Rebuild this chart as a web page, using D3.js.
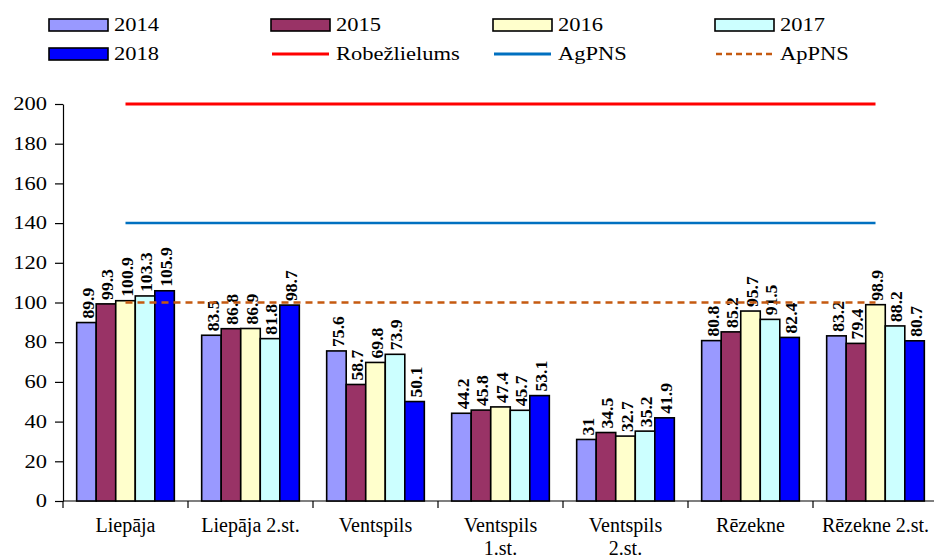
<!DOCTYPE html>
<html>
<head>
<meta charset="utf-8">
<script src="https://cdn.jsdelivr.net/npm/d3@7"></script>
<style>
  body { margin: 0; background: #fff; }
  #chart svg text { font-family: "Liberation Serif", "Times New Roman", Times, serif !important; }
</style>
</head>
<body>
<div id="chart"></div>
<script>
// data
const categories = [["Liepāja"], ["Liepāja 2.st."], ["Ventspils"], ["Ventspils", "1.st."], ["Ventspils", "2.st."], ["Rēzekne"], ["Rēzekne 2.st."]];
const years = ["2014", "2015", "2016", "2017", "2018"];
const v2014 = [89.9, 83.5, 75.6, 44.2, 31, 80.8, 83.2];
const v2015 = [99.3, 86.8, 58.7, 45.8, 34.5, 85.2, 79.4];
const v2016 = [100.9, 86.9, 69.8, 47.4, 32.7, 95.7, 98.9];
const v2017 = [103.3, 81.8, 73.9, 45.7, 35.2, 91.5, 88.2];
const v2018 = [105.9, 98.7, 50.1, 53.1, 41.9, 82.4, 80.7];
const yTicks = [0, 20, 40, 60, 80, 100, 120, 140, 160, 180, 200];
const robezlielums = 200;
const agPNS = 140;
const apPNS = 100;

const series = [v2014, v2015, v2016, v2017, v2018];
const barColors = ["#9999ff", "#993366", "#ffffcc", "#ccffff", "#0000ff"];
const serif = "'Liberation Serif', 'Times New Roman', serif";

const width = 934, height = 559;
const margin = {top: 104, right: -4, bottom: 58, left: 63};

const svg = d3.select("#chart").append("svg")
    .attr("width", width)
    .attr("height", height)
    .style("font-family", serif);

const x0 = d3.scaleBand()
    .domain(d3.range(categories.length))
    .range([margin.left, width - margin.right])
    .paddingInner(0)
    .paddingOuter(0);

const x1 = d3.scaleBand()
    .domain(years)
    .range([0, x0.bandwidth()])
    .paddingOuter(0.7);

const y = d3.scaleLinear()
    .domain([0, 200])
    .range([height - margin.bottom, margin.top]);

// y axis (the text in the original is a bit stretched sideways)
const yAxis = svg.append("g")
    .attr("transform", `translate(${margin.left},0)`)
    .call(d3.axisLeft(y).tickValues(yTicks).tickSize(8).tickSizeOuter(0).tickPadding(10));
yAxis.attr("font-family", null);
yAxis.select(".domain").attr("stroke", "#000").attr("stroke-width", 1.2);
yAxis.selectAll(".tick line").attr("stroke", "#000").attr("stroke-width", 1.2);
yAxis.selectAll("text")
    .attr("font-size", 18)
    .attr("x", -16 / 1.25)
    .attr("transform", "scale(1.25,1)")
    .attr("fill", "#000");

// x axis
const xAxisG = svg.append("g")
    .attr("transform", `translate(0,${y(0)})`);
xAxisG.append("line")
    .attr("x1", margin.left).attr("x2", width)
    .attr("stroke", "#000").attr("stroke-width", 1.2);
xAxisG.selectAll(".xtick")
    .data(d3.range(categories.length))
    .enter().append("line")
    .attr("x1", d => x0(d)).attr("x2", d => x0(d))
    .attr("y1", 0).attr("y2", 7)
    .attr("stroke", "#000").attr("stroke-width", 1.2);

const xLabels = xAxisG.selectAll(".xlabel")
    .data(categories)
    .enter().append("text")
    .attr("text-anchor", "middle")
    .attr("font-size", 20)
    .attr("fill", "#000")
    .attr("transform", (d, i) => `translate(${x0(i) + x0.bandwidth() / 2},31)`);
xLabels.selectAll("tspan")
    .data(d => d)
    .enter().append("tspan")
    .attr("x", 0)
    .attr("dy", (d, i) => i === 0 ? 0 : 23)
    .text(d => d);

// bars
const groups = svg.selectAll(".group")
    .data(categories)
    .enter().append("g")
    .attr("transform", (d, i) => `translate(${x0(i)},0)`);

groups.each(function (c, ci) {
    const g = d3.select(this);
    years.forEach((yr, si) => {
        const val = series[si][ci];
        g.append("rect")
            .attr("x", x1(yr))
            .attr("y", y(val))
            .attr("width", x1.bandwidth())
            .attr("height", y(0) - y(val))
            .attr("fill", barColors[si])
            .attr("stroke", "#000")
            .attr("stroke-width", 1.6);
    });
});

// reference lines
const lineX1 = x0(0) + x0.bandwidth() / 2;
const lineX2 = x0(categories.length - 1) + x0.bandwidth() / 2;
svg.append("line")
    .attr("x1", lineX1).attr("x2", lineX2)
    .attr("y1", y(robezlielums)).attr("y2", y(robezlielums))
    .attr("stroke", "#ff0000").attr("stroke-width", 3);
svg.append("line")
    .attr("x1", lineX1).attr("x2", lineX2)
    .attr("y1", y(agPNS)).attr("y2", y(agPNS))
    .attr("stroke", "#0070c0").attr("stroke-width", 2.5);
svg.append("line")
    .attr("x1", lineX1).attr("x2", lineX2)
    .attr("y1", y(apPNS)).attr("y2", y(apPNS))
    .attr("stroke", "#c55a11").attr("stroke-width", 2.5)
    .attr("stroke-dasharray", "7,5");

// value labels
groups.each(function (c, ci) {
    const g = d3.select(this);
    years.forEach((yr, si) => {
        const val = series[si][ci];
        const cx = x1(yr) + x1.bandwidth() / 2;
        g.append("text")
            .attr("transform", `translate(${cx + 1},${y(val) - 4}) rotate(-90) scale(1.1,1.1)`)
            .attr("dy", "0.35em")
            .attr("font-size", 16)
            .attr("font-weight", "bold")
            .attr("fill", "#000")
            .text(String(val));
    });
});

// legend
const legendItems = [
    {label: "2014", type: "rect", color: barColors[0]},
    {label: "2015", type: "rect", color: barColors[1]},
    {label: "2016", type: "rect", color: barColors[2]},
    {label: "2017", type: "rect", color: barColors[3]},
    {label: "2018", type: "rect", color: barColors[4]},
    {label: "Robežlielums", type: "line", color: "#ff0000"},
    {label: "AgPNS", type: "line", color: "#0070c0"},
    {label: "ApPNS", type: "dash", color: "#c55a11"}
];
const legend = svg.append("g");
legendItems.forEach((d, i) => {
    const lx = 49 + (i % 4) * 222;
    const ly = 25 + Math.floor(i / 4) * 29;
    const item = legend.append("g").attr("transform", `translate(${lx},${ly})`);
    if (d.type === "rect") {
        item.append("rect")
            .attr("x", 0).attr("y", -6)
            .attr("width", 59).attr("height", 12)
            .attr("fill", d.color)
            .attr("stroke", "#000").attr("stroke-width", 1.6);
    } else {
        item.append("line")
            .attr("x1", 1).attr("x2", 58)
            .attr("stroke", d.color)
            .attr("stroke-width", d.type === "line" ? 3 : 2.5)
            .attr("stroke-dasharray", d.type === "dash" ? "6,4" : null);
    }
    item.append("text")
        .attr("transform", "translate(65,0) scale(1.25,1)")
        .attr("dy", "0.35em")
        .attr("font-size", 18)
        .attr("fill", "#000")
        .text(d.label);
});
</script>
</body>
</html>
